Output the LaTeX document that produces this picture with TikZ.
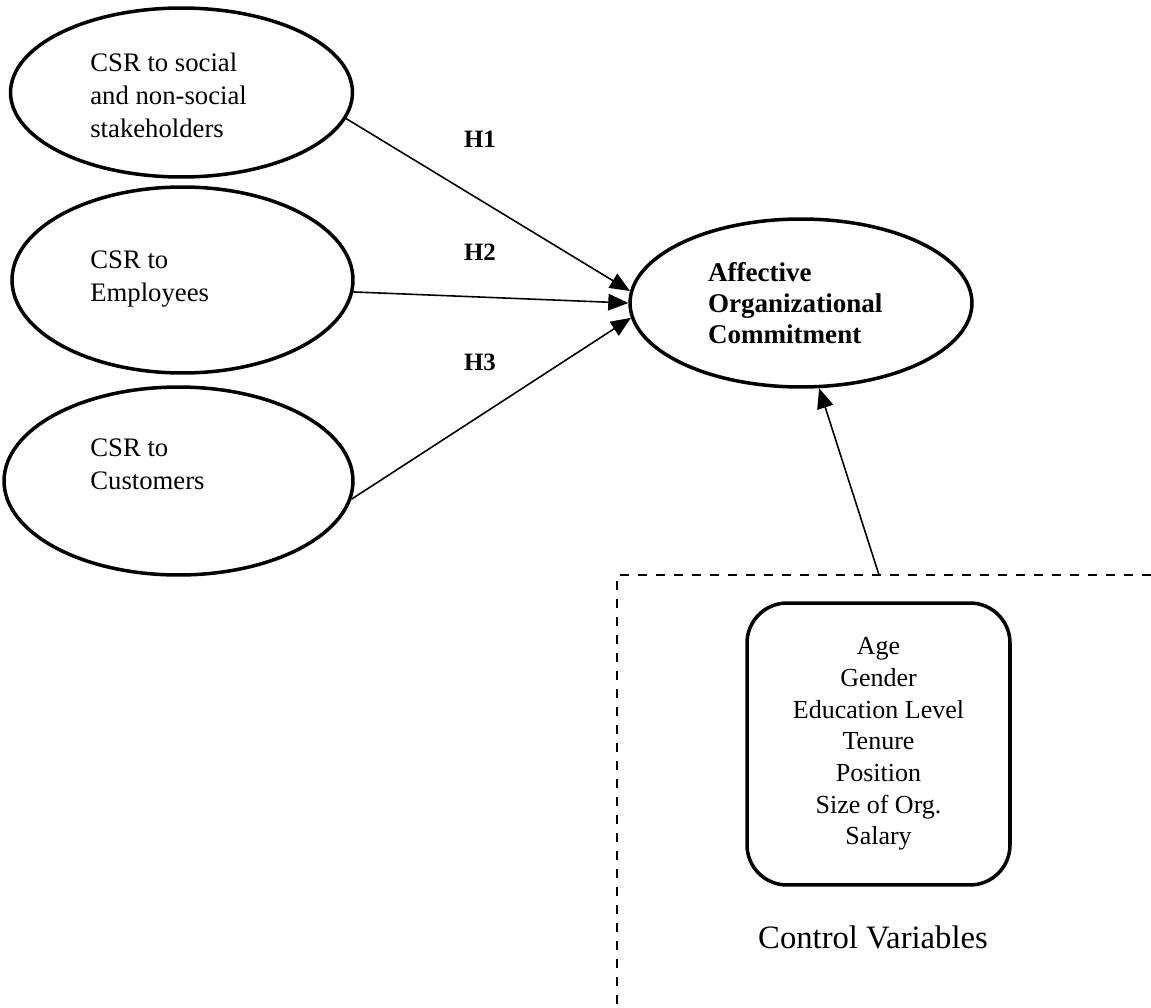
\documentclass[tikz,border=0pt]{standalone}
\usepackage{fontspec}
\setmainfont{Liberation Serif}
\usetikzlibrary{arrows.meta}
\usetikzlibrary{shapes.geometric}
\usetikzlibrary{positioning}
\tikzset{csr/.style={ellipse,draw=black,line width=2pt,inner sep=0pt}}
\tikzset{csrtext/.style={anchor=west,align=left,inner sep=0pt,font=\fontsize{15.2}{18.8}\selectfont}}
\tikzset{link/.style={line width=0.9pt,-{Triangle[length=0.4cm,width=0.33cm]}}}
\tikzset{hyp/.style={font=\fontsize{14.2}{16}\selectfont\bfseries}}
\tikzset{ctrlbox/.style={rectangle,rounded corners=0.8cm,draw=black,line width=2pt,align=center,font=\fontsize{14.8}{18}\selectfont}}

\begin{document}
\begin{tikzpicture}[x=0.02cm,y=-0.02cm]
\useasboundingbox (0,0) rectangle (1151,1007);
% dimensions of CSR
\node[csr, minimum width=6.84cm, minimum height=3.38cm] (s1) at (181.5,92.5) {};
\node[csr, minimum width=6.82cm, minimum height=3.72cm] (s2) at (182.5,280) {};
\node[csr, minimum width=6.98cm, minimum height=3.76cm] (s3) at (178.5,481) {};
\node[csrtext] (t1) at (90,95) {CSR to social\\and non-social\\stakeholders};
\node[csrtext] (t2) at (90,279) {CSR to\\Employees};
\node[csrtext] (t3) at (90,464) {CSR to\\Customers};
% outcome
\node[csr, minimum width=6.84cm, minimum height=3.36cm, text width=3.72cm, align=left, font=\fontsize{15.4}{17.6}\selectfont\bfseries] (ac) at (801,303) {Affective\\Organizational\\Commitment};
\foreach \i / \a / \b in {1/351/176, 2/356/180, 3/354/185} {
	\draw[link] (s\i.\a) -- (ac.\b);
}
\node[hyp] (h1) at (480,139) {H1};
\node[hyp] (h2) at (480,252) {H2};
\node[hyp] (h3) at (480,362) {H3};
% controls
\coordinate (dtr) at (1151,575);
\coordinate (dtl) at (617,575);
\coordinate (dbl) at (617,1007);
\draw[line width=1.4pt, dash pattern=on 0.19cm off 0.17cm] (dtr) -- (dtl) -- (dbl);
\node[ctrlbox, minimum width=5.26cm, minimum height=5.64cm] (cb) at (878.5,744) {Age\\Gender\\Education Level\\Tenure\\Position\\Size of Org.\\Salary};
\node[font=\fontsize{18.6}{22}\selectfont] (cvl) at (873,937) {Control Variables};
\coordinate (cv) at (879,575);
\draw[link] (cv) -- (ac.282);
\end{tikzpicture}
\end{document}
